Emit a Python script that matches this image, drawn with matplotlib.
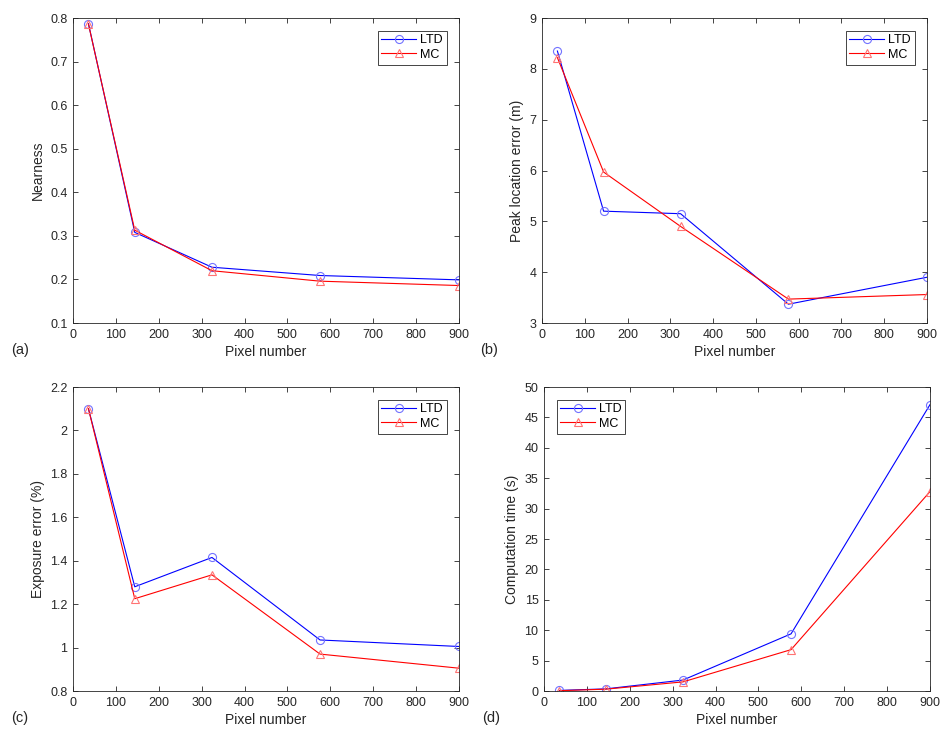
import matplotlib
matplotlib.use("Agg")
import matplotlib.pyplot as plt

plt.rcParams["font.family"] = ["Liberation Sans", "DejaVu Sans"]

# pixel counts (6^2, 12^2, 18^2, 24^2, 30^2)
pixels = [36, 144, 324, 576, 900]

near_ltd = [0.787, 0.308, 0.228, 0.209, 0.199]
near_mc = [0.786, 0.313, 0.220, 0.196, 0.186]

peak_ltd = [8.35, 5.20, 5.15, 3.37, 3.90]
peak_mc = [8.22, 5.97, 4.90, 3.47, 3.56]

expo_ltd = [2.10, 1.28, 1.415, 1.035, 1.005]
expo_mc = [2.10, 1.225, 1.335, 0.97, 0.905]

time_ltd = [0.10, 0.35, 1.80, 9.40, 47.1]
time_mc = [0.05, 0.30, 1.50, 6.80, 32.8]

INK = "#262626"
W, H = 952, 739

panels = [
    # (rect px: left, top, right, bottom), ltd, mc, ylabel, ylim, yticks, tag, legend loc
    ((73, 18, 459, 323), near_ltd, near_mc, "Nearness", (0.1, 0.8),
     [0.1, 0.2, 0.3, 0.4, 0.5, 0.6, 0.7, 0.8], "(a)", "upper right"),
    ((542, 18, 927, 323), peak_ltd, peak_mc, "Peak location error (m)", (3, 9),
     [3, 4, 5, 6, 7, 8, 9], "(b)", "upper right"),
    ((73, 387, 459, 691), expo_ltd, expo_mc, "Exposure error (%)", (0.8, 2.2),
     [0.8, 1, 1.2, 1.4, 1.6, 1.8, 2, 2.2], "(c)", "upper right"),
    ((544, 387, 930, 691), time_ltd, time_mc, "Computation time (s)", (0, 50),
     list(range(0, 51, 5)), "(d)", "upper left"),
]

fig = plt.figure(figsize=(W / 100, H / 100), dpi=100)

for (l, t, r, b), ltd, mc, ylab, ylim, yticks, tag, loc in panels:
    ax = fig.add_axes([l / W, 1 - b / H, (r - l) / W, (b - t) / H])
    ax.plot(pixels, ltd, color="blue", lw=0.8, marker="o", ms=5.8,
            mfc="none", mec=(0.45, 0.45, 1.0), mew=0.8, label="LTD")
    ax.plot(pixels, mc, color="red", lw=0.8, marker="^", ms=5.8,
            mfc="none", mec=(1.0, 0.45, 0.45), mew=0.8, label="MC")
    ax.set_xlim(0, 900)
    ax.set_ylim(*ylim)
    ax.set_xticks(range(0, 901, 100))
    ax.set_yticks(yticks)
    ax.set_yticklabels([f"{v:g}" for v in yticks])
    ax.tick_params(direction="in", top=True, right=True, length=3.5,
                   width=0.6, colors=INK, labelsize=9, pad=4)
    for sp in ax.spines.values():
        sp.set_color(INK)
        sp.set_linewidth(0.6)
    ax.set_xlabel("Pixel number", fontsize=10, color=INK, labelpad=3)
    ax.set_ylabel(ylab, fontsize=10, color=INK, labelpad=4)
    leg = ax.legend(loc=loc, fontsize=9, fancybox=False, framealpha=1,
                    edgecolor=INK, handlelength=2.8, borderaxespad=1.0,
                    borderpad=0.3, labelspacing=0.2, handletextpad=0.3)
    leg.get_frame().set_linewidth(0.6)
    fig.text((l - 62) / W, 1 - (b + 27) / H, tag, fontsize=10.5, color=INK,
             va="center", ha="left")

fig.savefig("out.png", dpi=100)
